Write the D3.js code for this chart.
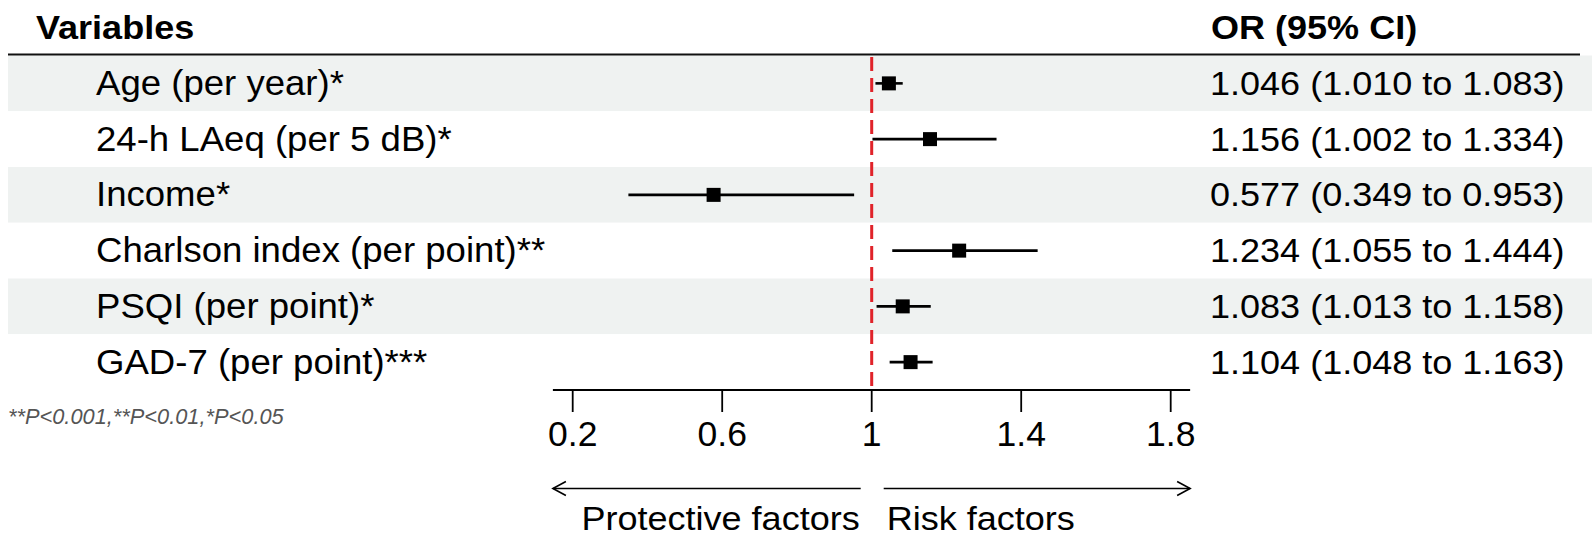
<!DOCTYPE html>
<html>
<head>
<meta charset="utf-8">
<script src="https://cdn.jsdelivr.net/npm/d3@7"></script>
<style>
  body { margin: 0; background: #fff; }
  svg { font-family: "Liberation Sans", Arial, sans-serif; }
</style>
</head>
<body>
<svg id="chart" width="1595" height="539"></svg>
<script>
// data
const variables = ['Age (per year)*', '24-h LAeq (per 5 dB)*', 'Income*',
  'Charlson index (per point)**', 'PSQI (per point)*', 'GAD-7 (per point)***']
const orValues = [1.046, 1.156, 0.577, 1.234, 1.083, 1.104]
const lowerCI = [1.010, 1.002, 0.349, 1.055, 1.013, 1.048]
const upperCI = [1.083, 1.334, 0.953, 1.444, 1.158, 1.163]
const tickValues = [0.2, 0.6, 1, 1.4, 1.8]
const axisExtent = [0.147, 1.852]
const refValue = 1

const fmt = d3.format('.3f')
const rows = variables.map((v, i) => ({
  name: v, or: orValues[i], lo: lowerCI[i], hi: upperCI[i],
  label: fmt(orValues[i]) + ' (' + fmt(lowerCI[i]) + ' to ' + fmt(upperCI[i]) + ')'
}))

const svg = d3.select('#chart')
const SX = 1.06 // text in the figure is a little wider than tall

// scales
const x = d3.scaleLinear().domain([0.2, 1.8]).range([572.7, 1170.7])
const y = d3.scaleBand().domain(variables).range([55.5, 390]).padding(0)
const yMid = d => y(d) + y.bandwidth() / 2

// place a text with a slight horizontal stretch
function label(g, tx, ty, sx) {
  return g.attr('transform', `translate(${tx},${ty}) scale(${sx},1)`)
}

// zebra bands
svg.append('g')
  .selectAll('rect')
  .data(rows)
  .join('rect')
  .attr('x', 8)
  .attr('width', 1584)
  .attr('y', d => y(d.name))
  .attr('height', y.bandwidth())
  .attr('fill', (d, i) => i % 2 === 0 ? '#eff2f1' : '#fff')

// header
label(svg.append('text'), 36, 38.5, SX)
  .attr('font-size', 34).attr('font-weight', 'bold').text('Variables')
label(svg.append('text'), 1211, 38.5, SX)
  .attr('font-size', 34).attr('font-weight', 'bold').text('OR (95% CI)')
svg.append('line')
  .attr('x1', 8).attr('x2', 1580).attr('y1', 54.5).attr('y2', 54.5)
  .attr('stroke', '#111').attr('stroke-width', 2)

// row labels
svg.append('g')
  .selectAll('text')
  .data(rows)
  .join('text')
  .attr('transform', d => `translate(96,${yMid(d.name) + 11.5}) scale(${SX},1)`)
  .attr('font-size', 34.5)
  .text(d => d.name)

svg.append('g')
  .selectAll('text')
  .data(rows)
  .join('text')
  .attr('transform', d => `translate(1210,${yMid(d.name) + 11.5}) scale(${SX},1)`)
  .attr('font-size', 34)
  .text(d => d.label)

// reference line
svg.append('line')
  .attr('x1', x(refValue)).attr('x2', x(refValue))
  .attr('y1', 57).attr('y2', 388)
  .attr('stroke', '#e0232a').attr('stroke-width', 3)
  .attr('stroke-dasharray', '14,7')

// CI lines and squares
const marks = svg.append('g')
marks.selectAll('line')
  .data(rows)
  .join('line')
  .attr('x1', d => x(d.lo))
  .attr('x2', d => x(d.hi))
  .attr('y1', d => yMid(d.name))
  .attr('y2', d => yMid(d.name))
  .attr('stroke', '#000').attr('stroke-width', 2.6)
marks.selectAll('rect')
  .data(rows)
  .join('rect')
  .attr('x', d => x(d.or) - 7)
  .attr('y', d => yMid(d.name) - 7)
  .attr('width', 14).attr('height', 14)
  .attr('fill', '#000')

// x axis
const axisY = 390
svg.append('line')
  .attr('x1', x(axisExtent[0])).attr('x2', x(axisExtent[1]))
  .attr('y1', axisY).attr('y2', axisY)
  .attr('stroke', '#000').attr('stroke-width', 1.8)
const ticks = svg.append('g')
ticks.selectAll('line')
  .data(tickValues)
  .join('line')
  .attr('x1', d => x(d)).attr('x2', d => x(d))
  .attr('y1', axisY).attr('y2', axisY + 22)
  .attr('stroke', '#000').attr('stroke-width', 1.8)
ticks.selectAll('text')
  .data(tickValues)
  .join('text')
  .attr('transform', d => `translate(${x(d)},446) scale(1.03,1)`)
  .attr('text-anchor', 'middle')
  .attr('font-size', 34.5)
  .text(d => d)

// arrows
const arrowY = 488.5
function arrow(x1, x2) {
  const dir = Math.sign(x2 - x1)
  svg.append('line')
    .attr('x1', x1).attr('x2', x2).attr('y1', arrowY).attr('y2', arrowY)
    .attr('stroke', '#000').attr('stroke-width', 1.6)
  svg.append('path')
    .attr('d', `M${x2 - dir * 13},${arrowY - 7}L${x2},${arrowY}L${x2 - dir * 13},${arrowY + 7}`)
    .attr('fill', 'none').attr('stroke', '#000').attr('stroke-width', 1.6)
}
arrow(x(refValue) - 11, x(axisExtent[0]))
arrow(x(refValue) + 12, x(axisExtent[1]))

label(svg.append('text'), x(refValue) - 12, 530, SX)
  .attr('text-anchor', 'end').attr('font-size', 34).text('Protective factors')
label(svg.append('text'), x(refValue) + 15, 530, SX)
  .attr('font-size', 34).text('Risk factors')

// footnote
svg.append('text').attr('x', 8).attr('y', 424)
  .attr('font-size', 21.8).attr('font-style', 'italic').attr('fill', '#555')
  .text('**P<0.001,**P<0.01,*P<0.05')
</script>
</body>
</html>
